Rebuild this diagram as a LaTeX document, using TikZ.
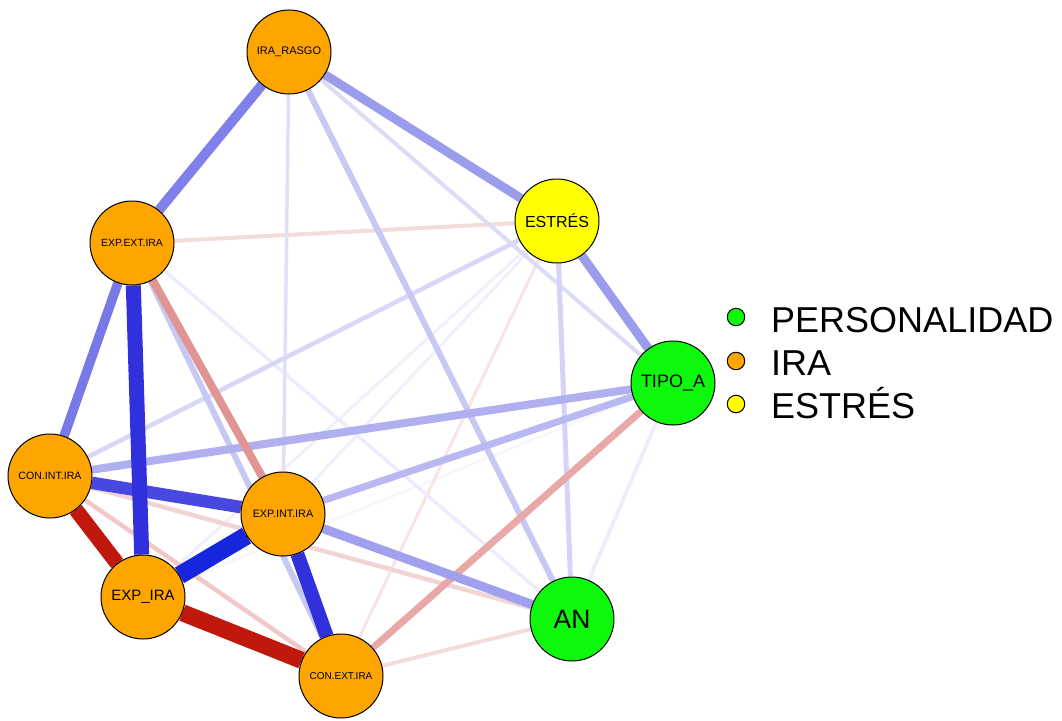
\documentclass[tikz,border=0pt]{standalone}
\usepackage{fontspec}
\setmainfont{Liberation Sans}
\usetikzlibrary{backgrounds}
\definecolor{orng}{HTML}{FFA500}
\definecolor{yel}{HTML}{FFFF00}
\definecolor{grn}{HTML}{0EF80E}
\begin{document}
\begin{tikzpicture}[x=1pt,y=-1pt,
  nd/.style={circle,draw=black,line width=1pt,minimum size=84pt,inner sep=0pt,text=black},
  lg/.style={circle,draw=black,line width=1pt,minimum size=17.5pt,inner sep=0pt},
  lt/.style={anchor=base west,inner sep=0pt,font=\fontsize{36}{36}\selectfont},
  ed/.style n args={2}{draw={#1},line width=#2pt}
]
\useasboundingbox (0,0) rectangle (1062,720);
% nodes
\node[nd,fill=orng,font=\fontsize{11}{11}\selectfont] (R) at (289,52) {IRA\_RASGO};
\node[nd,fill=yel,font=\fontsize{16}{16}\selectfont] (S) at (557,221) {ESTRÉS};
\node[nd,fill=orng,font=\fontsize{10.4}{10.4}\selectfont] (E) at (132,243) {EXP.EXT.IRA};
\node[nd,fill=grn,font=\fontsize{18}{18}\selectfont] (T) at (673,383) {TIPO\_A};
\node[nd,fill=orng,font=\fontsize{10.6}{10.6}\selectfont] (C) at (50,476) {CON.INT.IRA};
\node[nd,fill=orng,font=\fontsize{10.8}{10.8}\selectfont] (I) at (283,514) {EXP.INT.IRA};
\node[nd,fill=orng,font=\fontsize{15}{15}\selectfont] (X) at (143,597) {EXP\_IRA};
\node[nd,fill=grn,font=\fontsize{26.5}{26.5}\selectfont] (A) at (572,619) {AN};
\node[nd,fill=orng,font=\fontsize{10}{10}\selectfont] (K) at (341,676) {CON.EXT.IRA};
% edges
\begin{pgfonlayer}{background}
\draw[ed={rgb,255:red,246;green,246;blue,252}{2.5}] (T) -- (X);
\draw[ed={rgb,255:red,240;green,240;blue,252}{3}] (S) -- (X);
\draw[ed={rgb,255:red,240;green,240;blue,252}{3}] (S) -- (I);
\draw[ed={rgb,255:red,248;green,228;blue,228}{3}] (S) -- (K);
\draw[ed={rgb,255:red,236;green,236;blue,252}{3.5}] (E) -- (A);
\draw[ed={rgb,255:red,236;green,236;blue,252}{3.5}] (T) -- (A);
\draw[ed={rgb,255:red,245;green,220;blue,220}{4}] (E) -- (S);
\draw[ed={rgb,255:red,245;green,220;blue,220}{4}] (K) -- (A);
\draw[ed={rgb,255:red,224;green,224;blue,248}{3.5}] (R) -- (I);
\draw[ed={rgb,255:red,220;green,220;blue,248}{4}] (R) -- (T);
\draw[ed={rgb,255:red,242;green,212;blue,212}{4.5}] (C) -- (A);
\draw[ed={rgb,255:red,240;green,200;blue,200}{4.5}] (C) -- (K);
\draw[ed={rgb,255:red,216;green,216;blue,246}{4.5}] (S) -- (C);
\draw[ed={rgb,255:red,212;green,212;blue,246}{5}] (S) -- (A);
\draw[ed={rgb,255:red,200;green,200;blue,244}{6}] (R) -- (A);
\draw[ed={rgb,255:red,200;green,200;blue,244}{6}] (E) -- (K);
\draw[ed={rgb,255:red,184;green,184;blue,242}{7}] (T) -- (I);
\draw[ed={rgb,255:red,232;green,168;blue,168}{7}] (T) -- (K);
\draw[ed={rgb,255:red,176;green,176;blue,240}{8}] (T) -- (C);
\draw[ed={rgb,255:red,224;green,148;blue,148}{8}] (E) -- (I);
\draw[ed={rgb,255:red,160;green,160;blue,238}{9}] (I) -- (A);
\draw[ed={rgb,255:red,156;green,156;blue,236}{9}] (R) -- (S);
\draw[ed={rgb,255:red,156;green,156;blue,236}{9}] (S) -- (T);
\draw[ed={rgb,255:red,120;green,120;blue,230}{9.5}] (E) -- (C);
\draw[ed={rgb,255:red,128;green,128;blue,234}{10}] (R) -- (E);
\draw[ed={rgb,255:red,72;green,72;blue,224}{12.5}] (C) -- (I);
\draw[ed={rgb,255:red,48;green,48;blue,220}{14}] (I) -- (K);
\draw[ed={rgb,255:red,192;green,24;blue,12}{15}] (C) -- (X);
\draw[ed={rgb,255:red,48;green,48;blue,220}{15}] (E) -- (X);
\draw[ed={rgb,255:red,192;green,24;blue,12}{17}] (X) -- (K);
\draw[ed={rgb,255:red,21;green,38;blue,220}{18}] (X) -- (I);
\end{pgfonlayer}
% legend
\node[lg,fill=grn] (L1) at (736,317) {};
\node[lg,fill=orng] (L2) at (736,361) {};
\node[lg,fill=yel] (L3) at (736,404) {};
\node[lt] (T1) at (771,332) {PERSONALIDAD};
\node[lt] (T2) at (771,375) {IRA};
\node[lt] (T3) at (771,418) {ESTRÉS};
\end{tikzpicture}
\end{document}
